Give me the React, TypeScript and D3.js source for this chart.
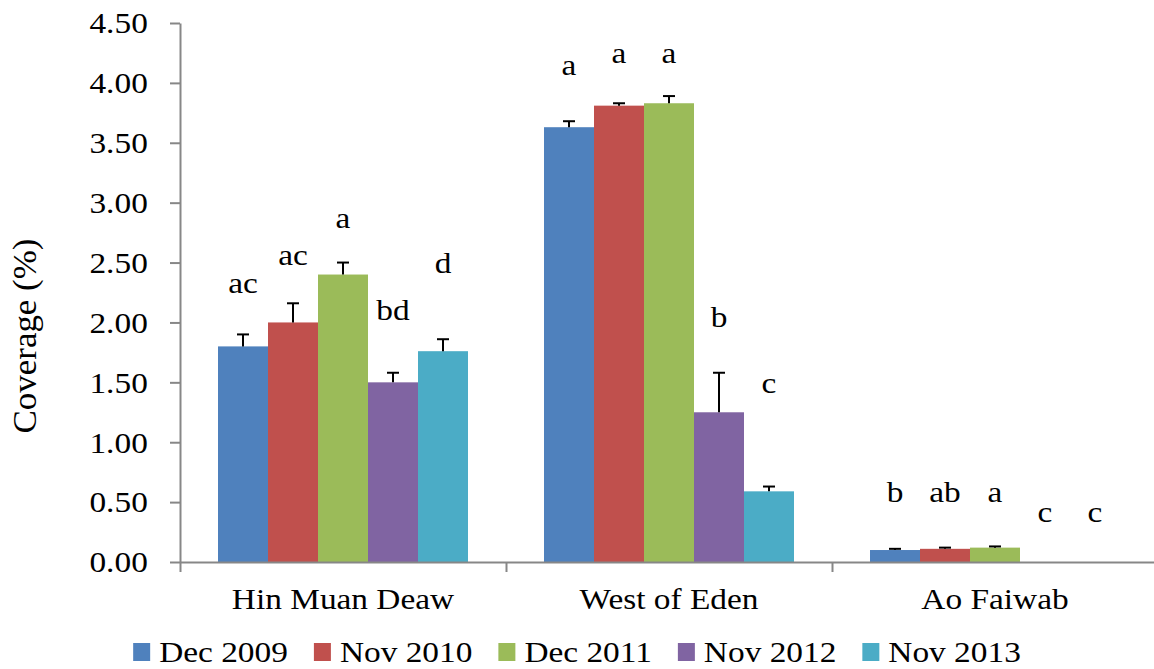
import React, { useEffect, useRef } from "react";
import * as d3 from "d3";

const sites = ["Hin Muan Deaw", "West of Eden", "Ao Faiwab"];
const seasons = ["Dec 2009", "Nov 2010", "Dec 2011", "Nov 2012", "Nov 2013"];
const colors = ["#4F81BD", "#C0504D", "#9BBB59", "#8064A2", "#4BACC6"];

// mean coverage (%) per site, one value per season
const hinMuanDeaw = [1.8, 2.0, 2.4, 1.5, 1.76];
const westOfEden = [3.63, 3.81, 3.83, 1.25, 0.59];
const aoFaiwab = [0.1, 0.11, 0.12, 0, 0];

// standard error per site
const hinMuanDeawErr = [0.1, 0.16, 0.1, 0.08, 0.1];
const westOfEdenErr = [0.05, 0.02, 0.06, 0.33, 0.04];
const aoFaiwabErr = [0.01, 0.01, 0.01, 0, 0];

// significance letters and the coverage level their baseline sits at
const hinMuanDeawLetters = ["ac", "ac", "a", "bd", "d"];
const westOfEdenLetters = ["a", "a", "a", "b", "c"];
const aoFaiwabLetters = ["b", "ab", "a", "c", "c"];
const hinMuanDeawLetterAt = [2.25, 2.48, 2.79, 2.02, 2.41];
const westOfEdenLetterAt = [4.07, 4.17, 4.17, 1.96, 1.41];
const aoFaiwabLetterAt = [0.5, 0.5, 0.5, 0.33, 0.33];

const yTicks = [0, 0.5, 1, 1.5, 2, 2.5, 3, 3.5, 4, 4.5];

const FONT = "Liberation Serif, Times New Roman, Times, serif";

const App = () => {
  const svgRef = useRef<SVGSVGElement>(null);

  useEffect(() => {
    if (!svgRef.current) return;

    const width = 1154;
    const height = 669;
    const fontSize = 29;
    const sx = 1.15; // the source image is a little stretched horizontally
    const axisColor = "#878787";

    const values = [hinMuanDeaw, westOfEden, aoFaiwab];
    const errors = [hinMuanDeawErr, westOfEdenErr, aoFaiwabErr];
    const letters = [hinMuanDeawLetters, westOfEdenLetters, aoFaiwabLetters];
    const letterAt = [hinMuanDeawLetterAt, westOfEdenLetterAt, aoFaiwabLetterAt];

    const data = sites.flatMap((site, i) =>
      seasons.map((season, j) => ({
        site,
        season,
        si: j,
        value: values[i][j],
        err: errors[i][j],
        letter: letters[i][j],
        letterAt: letterAt[i][j],
      }))
    );

    const svg = d3
      .select(svgRef.current)
      .attr("width", width)
      .attr("height", height)
      .attr("font-family", FONT);
    svg.selectAll("*").remove();

    const x0 = d3.scaleBand().domain(sites).range([180, 1158]);
    const x1 = d3
      .scaleBand()
      .domain(seasons)
      .range([0, x0.bandwidth()])
      .paddingOuter(0.76);
    const y = d3.scaleLinear().domain([0, 4.5]).range([562, 23]);

    // text helper: stretched like the source
    const label = (
      parent: d3.Selection<any, any, any, any>,
      x: number,
      yy: number,
      text: string,
      anchor = "middle"
    ) => {
      const g = parent.append("g").attr("transform", `translate(${x},${yy})`);
      return g
        .append("text")
        .attr("transform", `scale(${sx},1)`)
        .attr("text-anchor", anchor)
        .attr("font-family", FONT)
        .attr("font-size", fontSize)
        .attr("fill", "#000")
        .text(text);
    };

    // bars
    svg
      .append("g")
      .selectAll("rect")
      .data(data.filter((d) => d.value > 0))
      .enter()
      .append("rect")
      .attr("x", (d) => x0(d.site)! + x1(d.season)!)
      .attr("width", x1.bandwidth())
      .attr("y", (d) => y(d.value))
      .attr("height", (d) => y(0) - y(d.value))
      .attr("fill", (d) => colors[d.si]);

    // error bars
    const eb = svg
      .append("g")
      .attr("stroke", "#000")
      .attr("stroke-width", 2)
      .selectAll("g")
      .data(data.filter((d) => d.err > 0))
      .enter()
      .append("g");
    const cx = (d: any) => x0(d.site)! + x1(d.season)! + x1.bandwidth() / 2;
    eb.append("line")
      .attr("x1", cx)
      .attr("x2", cx)
      .attr("y1", (d) => y(d.value))
      .attr("y2", (d) => y(d.value + d.err));
    eb.append("line")
      .attr("x1", (d) => cx(d) - 6)
      .attr("x2", (d) => cx(d) + 6)
      .attr("y1", (d) => y(d.value + d.err))
      .attr("y2", (d) => y(d.value + d.err));

    // letters
    const lg = svg.append("g");
    data.forEach((d) => label(lg, cx(d), y(d.letterAt), d.letter));

    // y axis
    const yAxis = svg
      .append("g")
      .attr("transform", "translate(180,0)")
      .call(
        d3
          .axisLeft(y)
          .tickValues(yTicks)
          .tickFormat(d3.format(".2f"))
          .tickSize(10)
          .tickSizeOuter(0)
          .tickPadding(18)
      )
      .attr("font-family", FONT)
      .attr("font-size", fontSize);
    yAxis.selectAll("path, line").attr("stroke", axisColor).attr("stroke-width", 2);
    yAxis
      .selectAll("text")
      .attr("transform", `scale(${sx},1)`)
      .attr("dy", "0.34em")
      .attr("fill", "#000");

    // x axis with ticks between categories
    const xb = d3.scaleLinear().domain([0, sites.length]).range(x0.range());
    const xAxis = svg
      .append("g")
      .attr("transform", `translate(0,${y(0)})`)
      .call(
        d3
          .axisBottom(xb)
          .tickValues(d3.range(sites.length + 1))
          .tickFormat(() => "")
          .tickSize(10)
          .tickSizeOuter(0)
      );
    xAxis.selectAll("path, line").attr("stroke", axisColor).attr("stroke-width", 2);

    // category labels
    sites.forEach((s) => label(svg, x0(s)! + x0.bandwidth() / 2, 609, s));

    // y axis title
    svg
      .append("text")
      .attr("transform", `translate(36,336) rotate(-90) scale(1,${sx})`)
      .attr("text-anchor", "middle")
      .attr("textLength", 195)
      .attr("lengthAdjust", "spacingAndGlyphs")
      .attr("font-family", FONT)
      .attr("font-size", fontSize)
      .text("Coverage (%)");

    // legend
    const legend = svg.append("g");
    const items = seasons.map((s, i) => {
      const g = legend.append("g");
      g.append("rect")
        .attr("x", 0)
        .attr("y", 643)
        .attr("width", 17)
        .attr("height", 18)
        .attr("fill", colors[i]);
      const t = label(g, 26, 662, s, "start");
      const w = (t.node() as SVGTextElement).getComputedTextLength() * sx;
      return { g, w: 26 + w };
    });
    const gap = 26;
    const total = d3.sum(items, (d) => d.w) + gap * (items.length - 1);
    let pos = (width - total) / 2;
    items.forEach((it) => {
      it.g.attr("transform", `translate(${pos},0)`);
      pos += it.w + gap;
    });
  }, []);

  return (
    <svg
      ref={svgRef}
      style={{ position: "absolute", left: 0, top: 0, background: "#fff" }}
    ></svg>
  );
};

export default App;
